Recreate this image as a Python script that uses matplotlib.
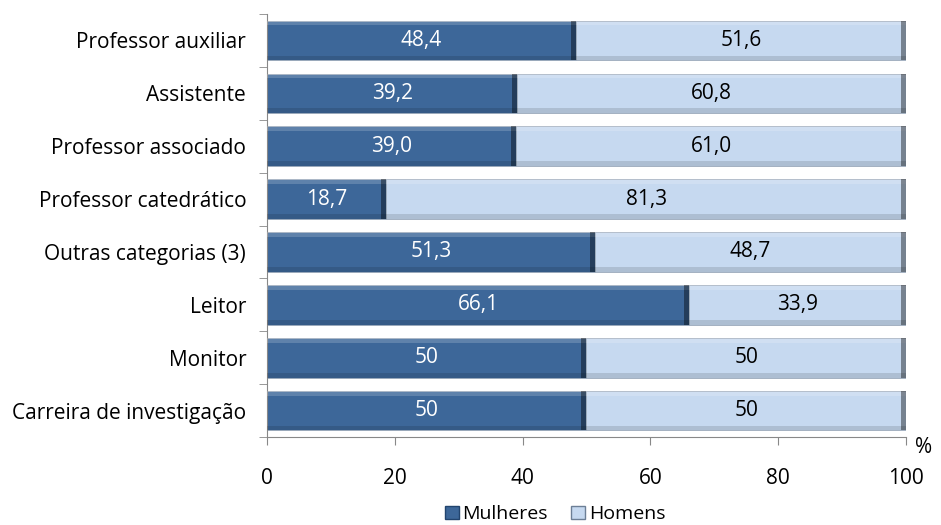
import numpy as np
import matplotlib.pyplot as plt
from matplotlib.patches import Rectangle

categorias = ['Professor auxiliar', 'Assistente', 'Professor associado',
              'Professor catedrático', 'Outras categorias (3)', 'Leitor',
              'Monitor', 'Carreira de investigação']
mulheres = [48.4, 39.2, 39.0, 18.7, 51.3, 66.1, 50, 50]
homens = [51.6, 60.8, 61.0, 81.3, 48.7, 33.9, 50, 50]
rotulos_m = ['48,4', '39,2', '39,0', '18,7', '51,3', '66,1', '50', '50']
rotulos_h = ['51,6', '60,8', '61,0', '81,3', '48,7', '33,9', '50', '50']

plt.rcParams['font.family'] = ['Open Sans', 'DejaVu Sans']

cor_m = '#3d6799'
cor_h = '#c6d9f0'
fs = 15

fig = plt.figure(figsize=(9.41, 5.25), dpi=100)
ax = fig.add_axes([0.2837, 0.1676, 0.6791, 0.8057])

y = np.arange(len(categorias))[::-1]
h = 0.75

def barra_bisel(ax, y, largura, inicio, cor, h):
    # barra principal
    ax.barh(y, largura, left=inicio, height=h, color=cor, edgecolor='#9aa8b8', linewidth=0.6, zorder=2)
    # faixa clara em cima, faixa escura em baixo
    ax.barh(y + h / 2 - h * 0.06, largura, left=inicio, height=h * 0.12,
            color='white', alpha=0.18, linewidth=0, zorder=3)
    ax.barh(y - h / 2 + h * 0.06, largura, left=inicio, height=h * 0.12,
            color='black', alpha=0.12, linewidth=0, zorder=3)
    # extremidade direita escura
    fim = np.array(inicio) + np.array(largura)
    ax.barh(y, 0.8, left=fim - 0.8, height=h, color='black', alpha=0.4, linewidth=0, zorder=3)

barra_bisel(ax, y, mulheres, 0, cor_m, h)
barra_bisel(ax, y, homens, mulheres, cor_h, h)

for yi, m, hm, lm, lh in zip(y, mulheres, homens, rotulos_m, rotulos_h):
    ax.text(m / 2, yi, lm, ha='center', va='center', color='white', fontsize=fs, zorder=4)
    ax.text(m + hm / 2, yi, lh, ha='center', va='center', color='black', fontsize=fs, zorder=4)

ax.set_xlim(0, 100)
ax.set_ylim(-0.5, 7.45)
ax.set_xticks(np.arange(0, 101, 20))
ax.set_yticks(y)
ax.set_yticklabels(categorias, fontsize=15)
ax.set_yticks(np.arange(-0.5, 7.6, 1), minor=True)
ax.tick_params(axis='y', which='major', length=0, pad=15)
ax.tick_params(axis='y', which='minor', length=6, color='#888888', direction='out')
ax.tick_params(axis='x', length=6, color='#888888', direction='out', labelsize=fs, pad=16)

for s in ['top', 'right']:
    ax.spines[s].set_visible(False)
for s in ['left', 'bottom']:
    ax.spines[s].set_color('#888888')

ax.text(1.028, -0.5, '%', transform=ax.get_yaxis_transform(), fontsize=fs, ha='center', va='top')

handles = [Rectangle((0, 0), 1, 1, facecolor=cor_m, edgecolor='#22446e'),
           Rectangle((0, 0), 1, 1, facecolor=cor_h, edgecolor='#6c7f96')]
fig.legend(handles, ['Mulheres', 'Homens'], loc='lower center', bbox_to_anchor=(0.59, -0.03),
           ncol=2, frameon=False, fontsize=14, handlelength=0.7, handleheight=0.7,
           handletextpad=0.2, columnspacing=1.2)

fig.savefig('out.png', dpi=100)
